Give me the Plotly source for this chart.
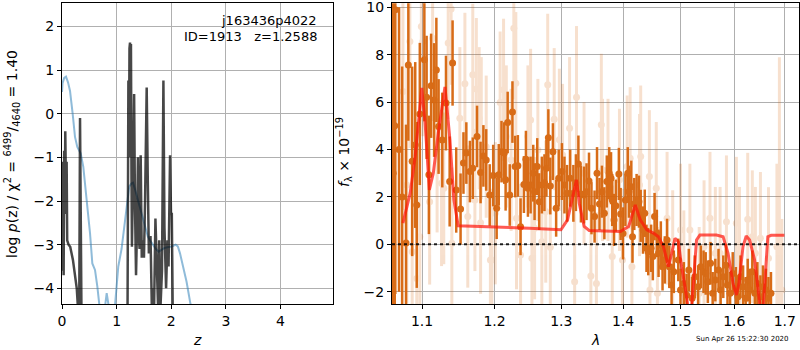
import plotly.graph_objects as go

# ---------------- left panel: log p(z) ----------------
z_prior = [0.0, 0.01, 0.04, 0.073, 0.11, 0.147, 0.195, 0.238, 0.28, 0.342, 0.39, 0.452, 0.513,
           0.555, 0.604, 0.647, 0.684, 0.72, 0.76, 0.79, 0.818, 0.86, 0.9, 0.97, 1.03, 1.09, 1.14,
           1.19, 1.23, 1.27, 1.3, 1.34, 1.39, 1.44, 1.48, 1.53, 1.57, 1.62, 1.66, 1.72, 1.77,
           1.82, 1.87, 1.93, 2.02, 2.08, 2.12, 2.16, 2.2, 2.28, 2.35, 2.45, 2.6]
logp_prior = [0.5, 0.7, 0.82, 0.85, 0.72, 0.52, 0.0, -0.53, -0.76, -0.91, -1.22, -1.98, -2.74,
              -3.43, -3.58, -3.96, -4.35, -4.8, -4.7, -4.4, -4.11, -4.45, -4.9, -4.4, -3.5, -3.1, -2.59,
              -2.1, -1.67, -1.6, -1.58, -1.75, -1.98, -2.25, -2.43, -2.65, -2.81, -2.92, -3.0, -3.1, -3.16,
              -3.12, -3.08, -3.06, -3.04, -3.0, -3.04, -3.2, -3.42, -3.85, -4.35, -5.0, -5.8]

z_chi = [0.0, 0.01, 0.02, 0.03, 0.04, 0.05, 0.06, 0.075, 0.085, 0.095, 0.12, 0.15, 0.2, 0.24,
         0.27, 0.3, 0.315, 0.33, 0.345, 0.36, 0.5, 0.8, 1.1, 1.17, 1.2, 1.215, 1.225, 1.235, 1.245,
         1.255, 1.262, 1.272, 1.28, 1.30, 1.32, 1.335, 1.355, 1.375, 1.39, 1.405, 1.42, 1.44,
         1.46, 1.48, 1.50, 1.52, 1.55, 1.57, 1.59, 1.62, 1.645, 1.66, 1.685, 1.71, 1.73, 1.76,
         1.78, 1.80, 1.83, 1.856, 1.875, 1.905, 1.93, 1.95, 1.978, 1.995, 2.01, 2.03, 2.2]
logp_chi = [-1.2, -3.6, -1.1, -3.7, -0.85, -2.3, -0.4, -2.0, -1.1, -2.9, -3.0, -3.05, -3.35, -3.7,
            -4.0, -4.6, -4.6, -0.1, -4.6, -5.2, -7, -7, -7, -5.0, -4.4, 0.76, -1.0, 1.5, 1.63,
            1.2, 1.6, -1.5, -3.05, -1.5, 0.45, -2.0, -3.7, -2.5, -1.0, -2.8, -3.1, -0.95,
            -3.3, -2.9, -3.3, -2.0, 0.6, -1.5, -3.2, -2.8, -4.5, -4.0, -4.5, -2.4, -3.5, -4.5,
            -2.9, -4.5, -3.6, 0.76, -2.6, -4.0, -2.9, -3.5, -0.95, -2.3, -2.3, -5.0, -7]

# ---------------- right panel: spectrum ----------------
lam_dark = [1.0625, 1.0645, 1.0652, 1.070, 1.074, 1.079, 1.082, 1.087, 1.091, 1.093, 1.097, 1.103,
            1.106, 1.109, 1.112, 1.116, 1.119, 1.122, 1.127, 1.132, 1.137, 1.141, 1.146, 1.152,
            1.156, 1.160, 1.165, 1.169, 1.175, 1.180, 1.184, 1.188, 1.193, 1.198, 1.203, 1.206,
            1.210, 1.214, 1.216, 1.219, 1.222, 1.226, 1.230, 1.234, 1.238, 1.243, 1.246, 1.249,
            1.253, 1.257, 1.259, 1.263, 1.266, 1.270, 1.274, 1.277, 1.280, 1.283, 1.287, 1.292,
            1.296, 1.301, 1.305, 1.309, 1.314, 1.319, 1.323, 1.327, 1.331, 1.336, 1.340, 1.344,
            1.348, 1.353, 1.357, 1.361, 1.365, 1.369, 1.373, 1.377, 1.380, 1.382, 1.385, 1.388,
            1.393, 1.396, 1.400, 1.404, 1.408, 1.410, 1.414, 1.416, 1.419, 1.423, 1.427, 1.430,
            1.434, 1.437, 1.440, 1.443, 1.448, 1.451, 1.454, 1.458, 1.461, 1.465, 1.468, 1.472,
            1.476, 1.480, 1.484, 1.488, 1.496, 1.500, 1.506, 1.511, 1.515, 1.521, 1.526, 1.532,
            1.537, 1.542, 1.546, 1.550, 1.555, 1.559, 1.564, 1.570, 1.574, 1.579, 1.584, 1.587,
            1.592, 1.597, 1.603, 1.607, 1.612, 1.617, 1.622, 1.626, 1.630, 1.635, 1.640, 1.645,
            1.651, 1.656, 1.662, 1.667, 1.672]
f_dark = [3.0, 5.0, 9.9, 4.0, 2.0, 0.05, 7.57, 3.5, 4.19, 1.66, 5.5, 7.79,
          6.2, 2.93, 6.69, 6.09, 7.36, 4.97, 4.4, 5.96, 2.65, 7.65, 2.29, 1.49,
          3.43, 3.85, 3.07, 3.21, 4.55, 3.03, 3.73, 3.56, 2.08, 2.9, 1.52, 2.93,
          3.91, 3.85, 2.72, 5.14, 2.08, 5.58, 3.28, 3.31, 0.74, 2.52, 3.59, 2.36,
          2.5, 3.0, 2.22, 3.28, 1.8, 2.5, 2.6, 3.21, 4.5, 2.46, 3.91, 1.52,
          2.79, 3.07, 2.5, 2.15, 2.79, 2.15, 2.6, 3.39, 2.12, 2.08, 2.22, 2.67,
          1.52, 1.17, 3.0, 1.7, 2.22, 1.31, 2.65, 3.0, 2.79, 1.87, 1.03, 1.63,
          2.97, 1.28, 0.46, 1.87, 3.0, 2.22, 2.43, 0.32, 1.7, 1.87, 1.8, 1.2,
          0.6, 1.31, -0.17, -0.31, -0.17, -0.52, 1.17, 0.46, -0.38, -0.03, -0.95, -0.66,
          0.18, -0.95, -1.72, -1.16, -0.66, -1.93, -1.65, -2.14, -1.09, -2.28, -1.37, -1.79,
          -0.95, -1.16, -1.23, -1.58, -0.8, -2.07, -1.51, -1.09, -1.93, -1.37, -0.88, -1.72,
          -2.07, -1.23, -1.86, -2.21, -1.37, -1.79, -2.28, -1.51, -1.93, -1.16, -2.07, -1.65,
          -2.21, -1.79, -1.93, -2.28, -2.07]
e_dark = [20, 15, 12, 6, 5.5, 5, 3.2, 4, 3.5, 3.5, 3, 2.6,
          2.6, 2.5, 2.2, 2.4, 2.2, 2.0, 2.0, 2.0, 1.9, 1.8, 1.8, 1.5,
          1.3, 1.3, 1.3, 1.3, 1.3, 1.3, 1.3, 1.3, 1.3, 1.3, 1.3, 1.3,
          1.3, 1.3, 1.3, 1.3, 1.3, 1.3, 1.3, 1.3, 1.2, 1.2, 1.2, 1.2,
          1.2, 1.2, 1.2, 1.2, 1.2, 1.2, 1.2, 1.2, 1.2, 1.2, 1.2, 1.2,
          1.2, 1.2, 1.2, 1.2, 1.2, 1.2, 1.2, 1.2, 1.2, 1.2, 1.2, 1.2,
          1.1, 1.1, 1.1, 1.1, 1.1, 1.1, 1.1, 1.1, 1.1, 1.1, 1.1, 1.1,
          1.1, 1.1, 1.1, 1.1, 1.1, 1.1, 1.1, 1.1, 1.1, 1.1, 1.1, 1.1,
          1.0, 1.0, 1.0, 1.0, 1.0, 1.0, 1.0, 1.0, 1.0, 1.0, 1.0, 1.0,
          0.9, 0.9, 0.9, 0.9, 0.9, 0.9, 0.9, 0.9, 0.9, 0.9, 0.9, 0.9,
          0.9, 0.9, 0.9, 0.9, 0.9, 0.9, 0.9, 0.9, 0.9, 0.9, 0.9, 0.9,
          0.9, 0.9, 0.9, 0.9, 0.9, 0.9, 0.9, 0.9, 0.9, 0.9, 0.9, 0.9,
          0.9, 0.9, 0.9, 0.9, 0.9]

lam_light = [1.075, 1.080, 1.084, 1.087, 1.093, 1.097, 1.099, 1.101, 1.110, 1.114, 1.120, 1.126,
             1.129, 1.135, 1.139, 1.140, 1.151, 1.158, 1.162, 1.169, 1.172, 1.174, 1.178, 1.180,
             1.181, 1.188, 1.194, 1.196, 1.201, 1.208, 1.213, 1.217, 1.224, 1.228, 1.231, 1.232,
             1.238, 1.249, 1.253, 1.255, 1.259, 1.264, 1.270, 1.276, 1.279, 1.283, 1.289, 1.297,
             1.302, 1.313, 1.321, 1.324, 1.336, 1.347, 1.356, 1.364, 1.366, 1.375, 1.382, 1.394,
             1.399, 1.407, 1.412, 1.415, 1.428, 1.430, 1.445, 1.446, 1.457, 1.459, 1.476, 1.486,
             1.500, 1.506, 1.517, 1.534, 1.543, 1.554, 1.564, 1.573, 1.585, 1.604, 1.610, 1.626,
             1.635, 1.641, 1.651, 1.667, 1.684, 1.689, 1.694]
f_light = [6.45, 2.5, 8.56, -0.31, -1.44, 0.32, 9.19, 8.56, 1.8, 8.7, 4.0, 2.58,
           2.36, 8.49, 9.93, 0.04, 5.32, 6.77, 1.17, 7.15, 1.87, 6.55, 5.32, 0.91,
           4.9, 4.12, -0.66, -0.66, 1.31, 5.98, 6.52, 4.55, 3.56, 9.12, 6.8, 1.1,
           -0.45, 4.55, 5.25, -0.59, 0.68, 3.98, 0.11, 1.38, 6.73, -0.13, 5.28, 4.41,
           3.77, 4.9, -1.58, 6.21, 3.0, -1.34, -1.65, 5.04, 3.14, 3.14, -0.52, 2.72,
           -0.66, 3.28, 3.63, -0.95, 2.5, 3.7, 2.86, -1.93, 2.36, -2.07, 1.1, -0.52,
           0.6, -1.37, 0.6, -2.07, -0.1, 1.1, -0.38, -0.38, 0.95, 0.89, -0.38, 1.06,
           0.32, -0.38, 0.25, -0.59, -0.1, -0.31, -1.93]
e_light = [5, 5, 4.5, 4.5, 4.5, 4, 4, 4, 3.5, 3.5, 3.5, 3.5,
           3.2, 3.2, 3.2, 3.2, 3, 3, 3, 3, 3, 3, 3, 3,
           3, 3, 3, 3, 3, 3, 3, 3, 3, 3, 3, 3,
           3, 3, 3, 3, 3, 3, 3, 3, 3, 3, 3, 3,
           3, 3, 3, 3, 3, 3, 3, 3, 3, 3, 3, 3,
           3, 3, 3, 3, 3, 3, 2.8, 2.8, 2.8, 2.8, 2.8, 2.8,
           2.8, 2.8, 2.8, 2.8, 2.8, 2.8, 2.8, 2.8, 2.8, 2.8, 2.8, 2.8,
           2.8, 2.8, 2.8, 3.0, 3.5, 8.2, 3.0]

lam_model = [1.0750, 1.0844, 1.0909, 1.0965, 1.0996, 1.1040, 1.1096, 1.1149, 1.1216, 1.1306,
             1.1374, 1.1428, 1.1487, 1.2512, 1.2995, 1.3098, 1.3177, 1.3240, 1.3283, 1.3362,
             1.3442, 1.3956, 1.4095, 1.4208, 1.4293, 1.4406, 1.4521, 1.4608, 1.4696, 1.4784,
             1.4842, 1.4901, 1.4961, 1.5019, 1.5081, 1.5140, 1.5190, 1.5231, 1.5291, 1.5353,
             1.5661, 1.5787, 1.5881, 1.5976, 1.6039, 1.6090, 1.6168, 1.6231, 1.6297, 1.6395,
             1.6460, 1.6513, 1.6558, 1.6604, 1.6657, 1.6723, 1.6992]
f_model = [0.89, 2.16, 3.71, 5.68, 6.6, 5.12, 2.3, 3.0, 4.7, 6.64,
           4.41, 1.88, 0.78, 0.68, 0.61, 1.03, 2.02, 2.72, 1.73, 0.75,
           0.58, 0.54, 0.75, 1.66, 1.03, 0.61, 0.47, 0.32, -0.1, -0.94,
           -0.38, 0.25, 0.11, -0.94, -1.79, -2.7, -3.0, -1.65, 0.18, 0.39,
           0.39, 0.32, -0.38, -1.65, -2.14, -1.65, -0.1, 0.35, 0.18, -0.66,
           -1.93, -2.8, -2.9, -1.23, 0.32, 0.38, 0.38]

lam_ticks = [1.1, 1.2, 1.3, 1.4, 1.5, 1.6, 1.7]

ORANGE = "rgb(214,101,12)"
FONT = "DejaVu Sans"

fig = go.Figure()

# left panel
fig.add_trace(go.Scatter(x=z_prior, y=logp_prior, mode="lines",
                         line=dict(color="rgba(31,119,180,0.5)", width=2),
                         xaxis="x", yaxis="y", showlegend=False))
fig.add_trace(go.Scatter(x=z_chi, y=logp_chi, mode="lines",
                         line=dict(color="rgba(0,0,0,0.72)", width=2.5),
                         xaxis="x", yaxis="y", showlegend=False))

# right panel
fig.add_trace(go.Scatter(x=lam_light, y=f_light, mode="markers",
                         marker=dict(color=ORANGE, size=7),
                         error_y=dict(type="data", array=e_light, color=ORANGE, thickness=3, width=0),
                         opacity=0.2, xaxis="x2", yaxis="y2", showlegend=False))
fig.add_trace(go.Scatter(x=lam_dark, y=f_dark, mode="markers",
                         marker=dict(color=ORANGE, size=7),
                         error_y=dict(type="data", array=e_dark, color=ORANGE, thickness=2.5, width=0),
                         opacity=0.95, xaxis="x2", yaxis="y2", showlegend=False))
fig.add_trace(go.Scatter(x=lam_model, y=f_model, mode="lines",
                         line=dict(color="rgba(255,20,10,0.7)", width=3),
                         xaxis="x2", yaxis="y2", showlegend=False))

axis_common = dict(showline=True, linecolor="black", linewidth=1, mirror=True,
                   ticks="outside", ticklen=4, tickcolor="black", tickwidth=1,
                   showgrid=True, gridcolor="#b0b0b0", gridwidth=1, zeroline=False,
                   tickfont=dict(family=FONT, size=14, color="black"), automargin=False,
                   ticklabeloverflow="allow")

fig.update_layout(
    width=800, height=350,
    margin=dict(l=0, r=0, t=0, b=0),
    paper_bgcolor="white", plot_bgcolor="white",
    xaxis=dict(domain=[62 / 800, 333 / 800], range=[0, 4.96],
               tickvals=[0, 1, 2, 3, 4], ticktext=["0", "1", "2", "3", "4"], **axis_common),
    yaxis=dict(domain=[46 / 350, 346.7 / 350], range=[-4.36, 2.53],
               tickvals=[-4, -3, -2, -1, 0, 1, 2],
               ticktext=["\u22124", "\u22123", "\u22122", "\u22121", "0", "1", "2"], **axis_common),
    xaxis2=dict(domain=[392 / 800, 799 / 800], type="log", range=[0.02571, 0.23785],
                tickvals=lam_ticks, ticktext=[str(v) for v in lam_ticks], anchor="y2", **axis_common),
    yaxis2=dict(domain=[46 / 350, 346.7 / 350], range=[-2.52, 10.17],
                tickvals=[-2, 0, 2, 4, 6, 8, 10],
                ticktext=["\u22122", "0", "2", "4", "6", "8", "10"], anchor="x2", **axis_common),
    shapes=[dict(type="line", xref="x2 domain", yref="y2", x0=0, x1=1, y0=0, y1=0,
                 line=dict(color="rgba(0,0,0,0.85)", width=2, dash="dot"))],
    annotations=[
        dict(text="j163436p4022", xref="paper", yref="paper", x=319 / 800, y=1 - 20 / 350,
             xanchor="right", yanchor="middle", showarrow=False,
             font=dict(family=FONT, size=13, color="black")),
        dict(text="ID=1913\u00a0\u00a0\u00a0z=1.2588", xref="paper", yref="paper", x=319 / 800,
             y=1 - 36 / 350, xanchor="right", yanchor="middle", showarrow=False,
             font=dict(family=FONT, size=13, color="black")),
        dict(text="log <i>p</i>(z) / χ<sup>2</sup> = <sup>6499</sup>/<sub>4640</sub> = 1.40",
             xref="paper", yref="paper", x=12 / 800, y=1 - 154 / 350, textangle=-90,
             xanchor="center", yanchor="middle", showarrow=False,
             font=dict(family=FONT, size=14, color="black")),
        dict(text="<i>f</i><sub>λ</sub> × 10<sup>\u221219</sup>",
             xref="paper", yref="paper", x=344 / 800, y=1 - 152 / 350, textangle=-90,
             xanchor="center", yanchor="middle", showarrow=False,
             font=dict(family=FONT, size=14, color="black")),
        dict(text="<i>z</i>", xref="paper", yref="paper", x=197 / 800, y=1 - 340 / 350,
             xanchor="center", yanchor="middle", showarrow=False,
             font=dict(family=FONT, size=14, color="black")),
        dict(text="<i>λ</i>", xref="paper", yref="paper", x=595 / 800, y=1 - 340 / 350,
             xanchor="center", yanchor="middle", showarrow=False,
             font=dict(family=FONT, size=14, color="black")),
        dict(text="Sun Apr 26 15:22:30 2020", xref="paper", yref="paper", x=742 / 800,
             y=1 - 339 / 350, xanchor="center", yanchor="middle", showarrow=False,
             font=dict(family=FONT, size=7, color="black")),
    ],
)

fig.write_html("out.html", config={"displayModeBar": False},
               post_script="document.body.style.margin='0';document.body.style.padding='0';")
